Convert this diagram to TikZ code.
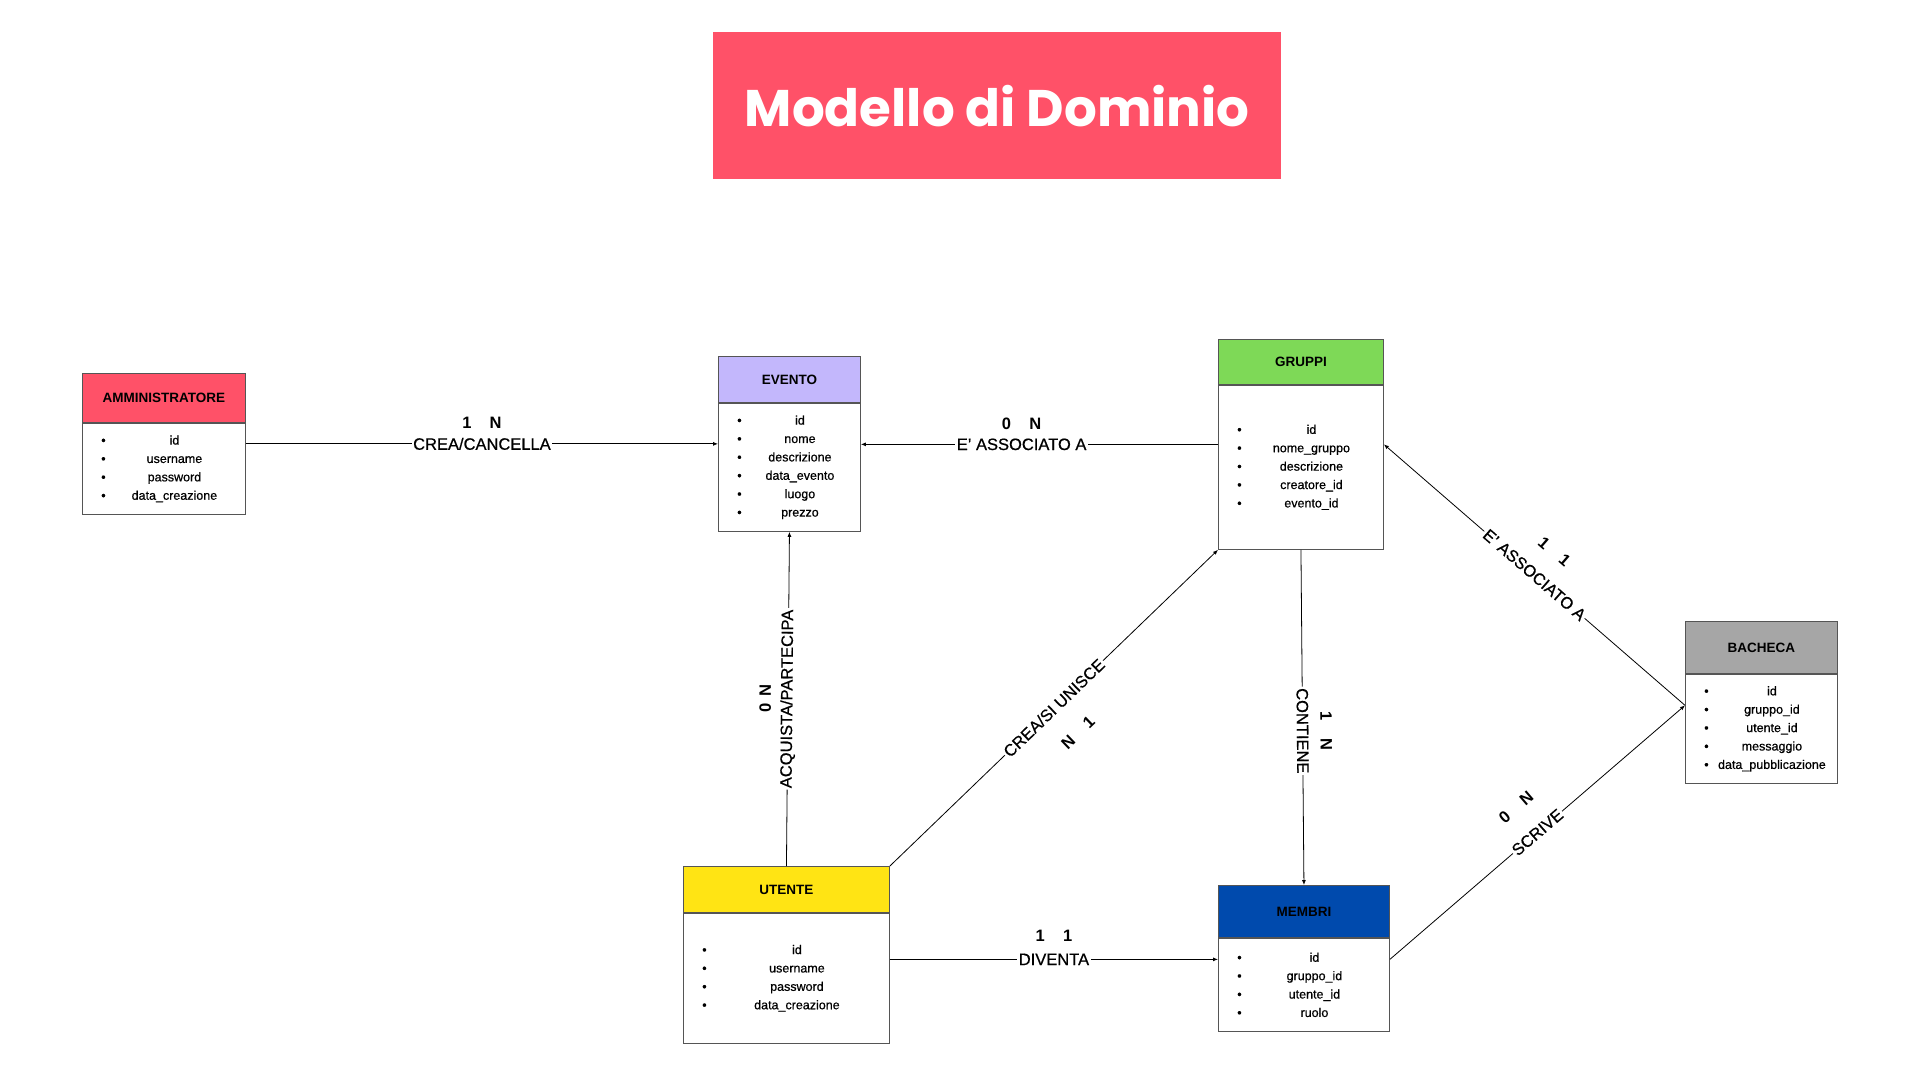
\documentclass[tikz,border=0pt]{standalone}
\usepackage{fontspec}
\setmainfont{Liberation Sans}
\newfontfamily\medfont{Liberation Sans}[FakeBold=0.6]
\newfontfamily\titlefont{Poppins}
\usetikzlibrary{arrows.meta,positioning,calc}
\definecolor{rosso}{HTML}{FF5168}
\definecolor{lilla}{HTML}{C3B7FC}
\definecolor{verde}{HTML}{7ED957}
\definecolor{grigio}{HTML}{A6A6A6}
\definecolor{giallo}{HTML}{FFE414}
\definecolor{blu}{HTML}{004AAD}
\definecolor{bordo}{HTML}{555555}
\tikzset{
  head/.style={draw=bordo,line width=0.9pt,anchor=north west,inner sep=0pt,font=\fontsize{13.5}{16}\selectfont\bfseries},
  body/.style={draw=bordo,line width=0.9pt,fill=white,inner sep=0pt,align=left,font=\medfont\fontsize{12.5}{18.4}\selectfont},
  arr/.style={-{Latex[length=5pt,width=4pt]},line width=0.8pt},
  lbl/.style={fill=white,inner sep=1.5pt,font=\medfont\fontsize{16.5}{18}\selectfont},
  card/.style={inner sep=0pt,font=\fontsize{16.5}{18}\selectfont\bfseries}
}
\newcommand{\itm}[1]{\hspace*{21pt}\makebox[0pt]{\textbullet}\makebox[\dimexpr\hsize-21pt\relax]{#1}}

\begin{document}
\begin{tikzpicture}[x=1pt,y=1pt]
  \useasboundingbox (0,0) rectangle (1920,-1080);
  % titolo
  \node[fill=rosso,anchor=north west,minimum width=568pt,minimum height=147pt,text=white,
        font=\titlefont\fontsize{51.5}{60}\selectfont\bfseries] (titolo) at (713,-32) {Modello di Dominio};
  % entita
  \node[head,fill=rosso,minimum width=163pt,minimum height=49pt] (amm) at (82,-373) {AMMINISTRATORE};
  \node[body,text width=163pt,minimum height=91pt,below=0pt of amm] (ammb)
    {\itm{id}\\\itm{username}\\\itm{password}\\\itm{data\_creazione}};
  \node[head,fill=lilla,minimum width=142pt,minimum height=46pt] (ev) at (718,-356) {EVENTO};
  \node[body,text width=142pt,minimum height=128pt,below=0pt of ev] (evb)
    {\itm{id}\\\itm{nome}\\\itm{descrizione}\\\itm{data\_evento}\\\itm{luogo}\\\itm{prezzo}};
  \node[head,fill=verde,minimum width=165pt,minimum height=45pt] (gr) at (1218,-339) {GRUPPI};
  \node[body,text width=165pt,minimum height=164pt,below=0pt of gr] (grb)
    {\itm{id}\\\itm{nome\_gruppo}\\\itm{descrizione}\\\itm{creatore\_id}\\\itm{evento\_id}};
  \node[head,fill=grigio,minimum width=152pt,minimum height=52pt] (ba) at (1685,-621) {BACHECA};
  \node[body,text width=152pt,minimum height=109pt,below=0pt of ba] (bab)
    {\itm{id}\\\itm{gruppo\_id}\\\itm{utente\_id}\\\itm{messaggio}\\\itm{data\_pubblicazione}};
  \node[head,fill=giallo,minimum width=206pt,minimum height=46pt] (ut) at (683,-866) {UTENTE};
  \node[body,text width=206pt,minimum height=130pt,below=0pt of ut] (utb)
    {\itm{id}\\\itm{username}\\\itm{password}\\\itm{data\_creazione}};
  \node[head,fill=blu,minimum width=171pt,minimum height=52pt] (mb) at (1218,-885) {MEMBRI};
  \node[body,text width=171pt,minimum height=93pt,below=0pt of mb] (mbb)
    {\itm{id}\\\itm{gruppo\_id}\\\itm{utente\_id}\\\itm{ruolo}};
  % relazioni
  \draw[arr] ([yshift=25pt]ammb.east) -- ([yshift=25pt]ammb.east -| evb.west)
    node[lbl,midway] {CREA/CANCELLA} node[card,midway,above=14.5pt] {1\hspace{1.1em}N};
  \draw[arr] ([yshift=23pt]grb.west) -- ([yshift=23pt]grb.west -| evb.east)
    node[lbl,pos=0.55] {E’ ASSOCIATO A} node[card,pos=0.55,above=14.5pt] {0\hspace{1.1em}N};
  \draw[arr] (ut.north) -- (evb.south)
    node[lbl,sloped,midway] {ACQUISTA/PARTECIPA} node[card,sloped,midway,above=16.5pt] {0\hspace{0.4em}N};
  \draw[arr] (ut.north east) -- (grb.south west)
    node[lbl,sloped,midway] {CREA/SI UNISCE} node[card,sloped,midway,below=28.5pt] {N\hspace{1.1em}1};
  \draw[arr] (grb.south) -- (mb.north)
    node[lbl,sloped,pos=0.54] {CONTIENE} node[card,sloped,pos=0.54,above=17.5pt] {1\hspace{1.1em}N};
  \draw[arr] ([yshift=19pt]utb.east) -- ([yshift=19pt]utb.east -| mbb.west)
    node[lbl,midway] {DIVENTA} node[card,midway,above=17.5pt] {1\hspace{1.1em}1};
  \draw[arr] ([yshift=23.5pt]bab.west) -- ([yshift=23pt]grb.east)
    node[lbl,sloped,midway] {E’ ASSOCIATO A} node[card,sloped,midway,above=24.5pt] {1\hspace{1.1em}1};
  \draw[arr] ([yshift=25.5pt]mbb.east) -- ([yshift=23.5pt]bab.west)
    node[lbl,sloped,midway] {SCRIVE} node[card,sloped,midway,above=26.5pt] {0\hspace{1.1em}N};
\end{tikzpicture}
\end{document}
